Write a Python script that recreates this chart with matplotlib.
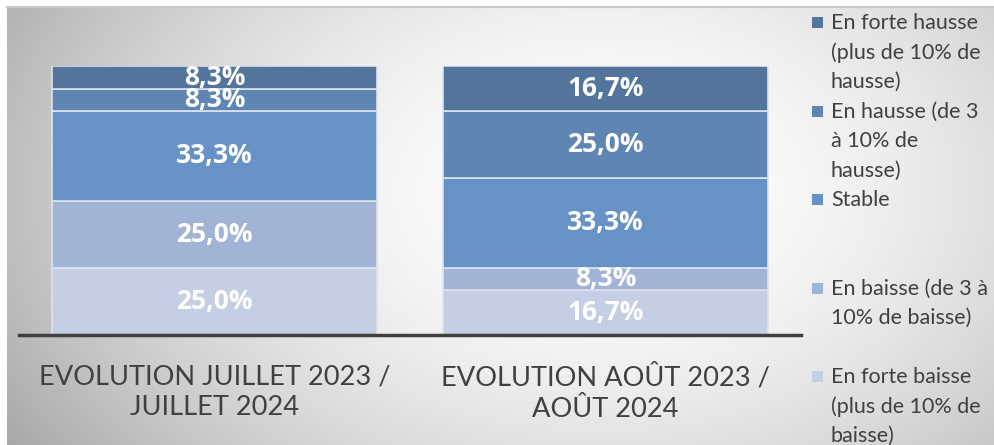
import numpy as np
import matplotlib
matplotlib.use("Agg")
import matplotlib.pyplot as plt
from matplotlib.patches import Rectangle

categories = ["EVOLUTION JUILLET 2023 /\nJUILLET 2024", "EVOLUTION AOÛT 2023 /\nAOÛT 2024"]
series = ["En forte baisse\n(plus de 10% de\nbaisse)",
          "En baisse (de 3 à\n10% de baisse)",
          "Stable",
          "En hausse (de 3\nà 10% de\nhausse)",
          "En forte hausse\n(plus de 10% de\nhausse)"]
forte_baisse = [25.0, 16.7]
baisse = [25.0, 8.3]
stable = [33.3, 33.3]
hausse = [8.3, 25.0]
forte_hausse = [8.3, 16.7]
values = [forte_baisse, baisse, stable, hausse, forte_hausse]
colors = ["#C4CFE3", "#A1B4D5", "#6692C6", "#5F85B3", "#53759C"]

W, H = 994, 445
fig = plt.figure(figsize=(W / 100, H / 100), dpi=100)

# background radial gradient panel
bg = fig.add_axes([0, 0, 1, 1])
bg.set_xlim(0, W)
bg.set_ylim(H, 0)
bg.axis("off")
yy, xx = np.mgrid[0:H, 0:W]
r = np.sqrt(((xx - 600) / 620.0) ** 2 + ((yy - 190) / 420.0) ** 2)
g = 255 - 70 * np.clip(r, 0, 1.2) ** 1.8
img = np.stack([g, g, g], axis=-1) / 255.0
img[:6, :, :] = 1.0
img[:, :7, :] = 1.0
img = np.clip(img, 0, 1)
bg.imshow(img, extent=[0, W, H, 0], aspect="auto", interpolation="bilinear")
bg.plot([7, W], [6.5, 6.5], color="#c8c8c8", lw=1.5)

ax = fig.add_axes([19 / W, (H - 335) / H, 782 / W, 269 / H])
ax.patch.set_alpha(0)
x = np.arange(len(categories))
bottom = np.zeros(len(categories))
for vals, col in zip(values, colors):
    v = np.array(vals)
    ax.bar(x, v, width=0.833, bottom=bottom, color=col, edgecolor="#dbe3ef", linewidth=1.2, zorder=2)
    for xi, vi, bi in zip(x, v, bottom):
        ax.text(xi, bi + vi / 2, f"{vi:.1f}%".replace(".", ","), ha="center", va="center",
                color="white", fontsize=19, fontweight="bold", family="Open Sans", zorder=3)
    bottom += v
ax.set_xlim(-0.5, 1.5)
ax.set_ylim(0, 100)
for s in ["top", "right", "left"]:
    ax.spines[s].set_visible(False)
ax.spines["bottom"].set_color("#404040")
ax.spines["bottom"].set_linewidth(2.5)
ax.set_yticks([])
ax.set_xticks(x)
ax.set_xticklabels(categories, fontsize=19.6, family="Lato", color="#404040", linespacing=1.3)
ax.tick_params(axis="x", length=0, pad=21)

# legend, drawn top to bottom with even slots
leg_order = list(range(len(series)))[::-1]
for k, si in enumerate(leg_order):
    y0 = 23 + k * 88.5
    bg.add_patch(Rectangle((812, y0 - 6), 11, 11, facecolor=colors[si], edgecolor="none"))
    for j, line in enumerate(series[si].split("\n")):
        bg.text(831, y0 + j * 29.5, line, ha="left", va="center", fontsize=15.5,
                family="Lato", color="#404040")

fig.savefig("out.png", dpi=100)
